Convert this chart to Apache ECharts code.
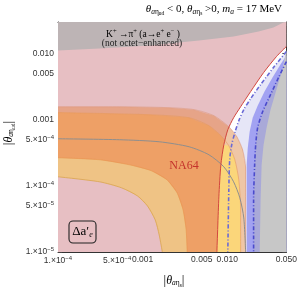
<!DOCTYPE html>
<html><head><meta charset="utf-8">
<script src="https://cdn.jsdelivr.net/npm/echarts@6/dist/echarts.min.js"></script>
<style>html,body{margin:0;padding:0;background:#fff}#c{width:300px;height:292px}</style>
</head><body><div id="c"></div>
<script>
// ---- axis ranges & ticks ----
const xMin = 1e-4, xMax = 0.05, yMin = 1e-5, yMax = 0.03;
const xTickValues = [1e-4, 5e-4, 1e-3, 5e-3, 1e-2, 5e-2];
const xTickLabels = ['1.×10^−4', '5.×10^−4', '0.001', '0.005', '0.010', '0.050'];
const yTickValues = [1e-5, 5e-5, 1e-4, 5e-4, 1e-3, 5e-3, 1e-2];
const yTickLabels = ['1.×10^−5', '5.×10^−5', '1.×10^−4', '5.×10^−4', '0.001', '0.005', '0.010'];

// ---- region boundaries [|theta_a eta_s|, |theta_a eta_ud|] ----
const topGrayEdge = [[1e-4,1.11e-2],[3.11e-4,1.19e-2],[1.2e-3,1.32e-2],[4.64e-3,1.57e-2],[1.19e-2,1.81e-2],[2.35e-2,2.15e-2],[3.52e-2,2.48e-2],[4.61e-2,2.95e-2],[5e-2,3e-2]];
const deltaAeEdge = [[5e-2,1.28e-2],[3.82e-2,9.01e-3],[2.69e-2,5.15e-3],[1.89e-2,2.66e-3],[1.44e-2,1.57e-3],[1.19e-2,1.07e-3],[1.016e-2,7.05e-4],[9.12e-3,4.18e-4],[8.41e-3,2.08e-4],[7.97e-3,6.81e-5],[7.55e-3,1e-5]];
const blueDashEdge = [[5e-2,1.07e-2],[3.52e-2,6.14e-3],[2.48e-2,3.39e-3],[1.89e-2,2.08e-3],[1.57e-2,1.42e-3],[1.37e-2,9.66e-4],[1.23e-2,6.35e-4],[1.13e-2,4.18e-4],[1.07e-2,2.48e-4],[1.044e-2,8.69e-5],[1.016e-2,1e-5]];
const blueBandEdge = [[5e-2,9.33e-3],[4.26e-2,6.81e-3],[3.43e-2,4.33e-3],[2.76e-2,2.66e-3],[2.29e-2,1.63e-3],[2.0e-2,1.07e-3],[1.84e-2,6.58e-4],[1.75e-2,3.77e-4],[1.70e-2,2.08e-4],[1.70e-2,1e-5]];
const blueCenterLine = [[5e-2,7.57e-3],[4.04e-2,4.33e-3],[3.25e-2,2.39e-3],[2.62e-2,1.32e-3],[2.29e-2,7.57e-4],[2.17e-2,4.18e-4],[2.11e-2,2.08e-4],[2.05e-2,6.14e-5],[2.05e-2,1e-5]];
const grayRightEdge = [[5e-2,1.15e-2],[4.50e-2,5.72e-3],[3.82e-2,2.85e-3],[3.25e-2,1.42e-3],[2.92e-2,7.57e-4],[2.69e-2,4.18e-4],[2.55e-2,2.08e-4],[2.48e-2,6.14e-5],[2.42e-2,1e-5]];
const na64Outer = [[1e-4,1.57e-3],[5.34e-4,1.57e-3],[2.06e-3,1.52e-3],[4.06e-3,1.42e-3],[6.96e-3,1.15e-3],[1.044e-2,7.83e-4],[1.30e-2,5.52e-4],[1.52e-2,3.51e-4],[1.65e-2,1.87e-4],[1.65e-2,6.14e-5],[1.65e-2,1e-5]];
const na64Inner = [[1e-4,1.28e-3],[1.2e-3,1.19e-3],[3.54e-3,1.07e-3],[6.08e-3,8.11e-4],[8.41e-3,5.72e-4],[1.044e-2,4.04e-4],[1.23e-2,2.48e-4],[1.37e-2,1.23e-4],[1.44e-2,4.33e-5],[1.44e-2,1e-5]];
const na64Central = [[1e-4,5.15e-4],[5.34e-4,4.98e-4],[1.57e-3,4.64e-4],[3.54e-3,3.90e-4],[6.08e-3,2.95e-4],[9.12e-3,1.94e-4],[1.19e-2,1.15e-4],[1.41e-2,6.58e-5],[1.57e-2,3.27e-5],[1.65e-2,1e-5]];
const bandUpper = [[1e-4,2.66e-4],[3.11e-4,2.48e-4],[7.0e-4,2.08e-4],[1.27e-3,1.69e-4],[1.95e-3,1.23e-4],[2.56e-3,7.83e-5],[3.01e-3,4.33e-5],[3.27e-3,2.15e-5],[3.36e-3,1e-5]];
const bandLower = [[1e-4,1.37e-4],[3.11e-4,1.15e-4],[5.64e-4,9.33e-5],[8.69e-4,7.05e-5],[1.14e-3,4.98e-5],[1.41e-3,3.05e-5],[1.57e-3,1.81e-5],[1.71e-3,1e-5]];

// ---- building ----
const L = v => Math.log10(v);
const corner = [[xMin, yMin]];
const BR = [[xMax, yMin]];
const SERIF = '"Liberation Serif", "DejaVu Serif", serif';
const SANS = '"Liberation Sans", Arial, sans-serif';

function poly(pts, color) {
  return {
    type: 'custom', coordinateSystem: 'cartesian2d', xAxisIndex: 0, yAxisIndex: 0,
    silent: true, clip: true, z: 1, data: [0],
    renderItem: (params, api) => ({
      type: 'polygon',
      shape: { points: pts.map(p => api.coord([L(p[0]), L(p[1])])) },
      style: { fill: color }
    })
  };
}
function line(pts, color, width, type) {
  return {
    type: 'line', xAxisIndex: 0, yAxisIndex: 0, silent: true, z: 3,
    data: pts.map(p => [L(p[0]), L(p[1])]), showSymbol: false, symbol: 'none',
    smooth: 0.25, lineStyle: { color: color, width: width, type: type || 'solid' }, clip: true
  };
}

const series = [
  poly([[xMin, yMax], [xMax, yMax]].concat(deltaAeEdge, corner), '#e7bfc3'),
  poly(blueDashEdge.concat(BR), '#e6e6f7'),
  poly(blueBandEdge.concat(BR), '#a2a2f2'),
  poly(blueCenterLine.concat(BR), '#a9a9d8'),
  poly(grayRightEdge.concat(BR), '#c7c7c7'),
  poly(topGrayEdge.concat([[xMin, yMax]]), '#bdb4b5'),
  poly(na64Outer.concat(corner), '#e6a488'),
  poly(na64Inner.concat(corner), '#eea066'),
  poly(na64Outer.slice(5).concat(deltaAeEdge.slice(6).reverse()), '#efc6a6'),
  poly(na64Inner.slice(5).concat(deltaAeEdge.slice(7).reverse()), '#fbd67a'),
  poly(bandUpper.concat(corner), '#efc385'),
  poly(bandLower.concat(corner), '#e7bfc3'),
  line(bandLower, '#d9a550', 0.8),
  line(bandUpper, '#e9964f', 0.6),
  line(na64Inner, '#e89a5c', 0.6),
  line(na64Outer, '#de9a80', 0.6),
  line(na64Central, '#8e8e8e', 1),
  line(blueCenterLine, '#4b4bcc', 1.6, [4, 2, 1, 2]),
  line(blueDashEdge, '#6a6ad6', 1.6, [4, 2, 1, 2]),
  line(deltaAeEdge, '#d2463e', 1)
];

// ---- ticks ----
function minors(decades, majors, lo, hi) {
  const out = [];
  decades.forEach(d => { for (let k = 2; k <= 9; k++) { const v = k * d; if (v > lo && v < hi * 1.0001 && !majors.some(m => Math.abs(m - v) < 1e-12)) out.push(v); } });
  return out;
}
const xMinor = minors([1e-4, 1e-3, 1e-2], xTickValues, xMin, xMax);
const yMinor = minors([1e-5, 1e-4, 1e-3, 1e-2], yTickValues, yMin, yMax);

function fmt(values, labels) {
  return v => {
    const i = values.findIndex(t => Math.abs(L(t) - v) < 1e-6);
    if (i < 0) return '';
    const s = labels[i];
    const m = s.match(/^(.*)\^(.*)$/);
    return m ? '{b|' + m[1] + '}{e|' + m[2] + '}' : '{b|' + s + '}';
  };
}
const rich = {
  b: { fontSize: 8.5, fontFamily: SANS, color: '#333' },
  e: { fontSize: 6, fontFamily: SANS, color: '#333', padding: [0, 0, 5, 0] }
};
const frame = { show: true, onZero: false, lineStyle: { color: '#333', width: 1 } };

function axisSet(dim, vals, labels, minorVals, lo, hi) {
  const base = { type: 'value', min: L(lo), max: L(hi), splitLine: { show: false }, scale: true };
  const pos = dim === 'x' ? ['bottom', 'top'] : ['left', 'right'];
  const major = vals.map(L), minor = minorVals.map(L);
  return [
    Object.assign({}, base, { position: pos[0], axisLine: frame,
      axisTick: { show: true, inside: true, length: 4, customValues: major, lineStyle: { color: '#444' } },
      axisLabel: { show: true, customValues: major, formatter: fmt(vals, labels), rich: rich, margin: dim === 'x' ? 3 : 4, showMinLabel: true, showMaxLabel: true, hideOverlap: false } }),
    Object.assign({}, base, { position: pos[0], axisLine: { show: false },
      axisTick: { show: true, inside: true, length: 2, customValues: minor, lineStyle: { color: '#555' } },
      axisLabel: { show: false } }),
    Object.assign({}, base, { position: pos[1], axisLine: frame,
      axisTick: { show: true, inside: true, length: 4, customValues: major, lineStyle: { color: '#444' } },
      axisLabel: { show: false } }),
    Object.assign({}, base, { position: pos[1], axisLine: { show: false },
      axisTick: { show: true, inside: true, length: 2, customValues: minor, lineStyle: { color: '#555' } },
      axisLabel: { show: false } })
  ];
}

const titleRich = {
  i: { fontFamily: SERIF, fontStyle: 'italic', fontSize: 11, color: '#222' },
  n: { fontFamily: SERIF, fontSize: 11, color: '#222' },
  s: { fontFamily: SERIF, fontSize: 7.5, color: '#222', padding: [5, 0, 0, 0] },
  si: { fontFamily: SERIF, fontStyle: 'italic', fontSize: 7.5, color: '#222', padding: [5, 0, 0, 0] },
  ss: { fontFamily: SERIF, fontSize: 5.5, color: '#222', padding: [9, 0, 0, 0] },
  sup: { fontFamily: SERIF, fontSize: 6.5, color: '#222', padding: [0, 0, 6, 0] },
  t: { fontFamily: SERIF, fontSize: 9.5, color: '#222' },
  big: { fontFamily: SERIF, fontSize: 13, color: '#222' }
};

const chart = echarts.init(document.getElementById('c'), null, { renderer: 'canvas' });
chart.setOption({
  animation: false,
  backgroundColor: '#fff',
  grid: { left: 58, right: 12, top: 22, bottom: 40, containLabel: false },
  xAxis: axisSet('x', xTickValues, xTickLabels, xMinor, xMin, xMax),
  yAxis: axisSet('y', yTickValues, yTickLabels, yMinor, yMin, yMax),
  series: series,
  graphic: [
    { type: 'text', x: 282, y: 2, silent: true,
      style: { text: '{i|θ}{si|a}{s|η}{ss|ud}{n| < 0, }{i|θ}{si|a}{s|η}{ss|s}{n| >0, }{i|m}{si|a}{n| = 17 MeV}', rich: titleRich, align: 'right', verticalAlign: 'top' } },
    { type: 'text', x: 9, y: 133, rotation: Math.PI / 2, silent: true, z: 10,
      style: { text: '{big||}{i|θ}{si|a}{s|η}{ss|ud}{big||}', rich: Object.assign({}, titleRich, { i: { fontFamily: SERIF, fontStyle: 'italic', fontSize: 12, color: '#222' } }), align: 'center', verticalAlign: 'middle' } },
    { type: 'text', x: 174, y: 281, silent: true,
      style: { text: '{big||}{i|θ}{si|a}{s|η}{ss|s}{big||}', rich: Object.assign({}, titleRich, { i: { fontFamily: SERIF, fontStyle: 'italic', fontSize: 12, color: '#222' } }), align: 'center', verticalAlign: 'middle' } },
    { type: 'text', x: 143, y: 34, silent: true, z: 10,
      style: { text: '{t|K}{sup|+}{t| →π}{sup|+}{t| (a→e}{sup|+}{t| e}{sup|−}{t| )}', rich: titleRich, align: 'center', verticalAlign: 'middle' } },
    { type: 'text', x: 142, y: 43, silent: true, z: 10,
      style: { text: '(not octet−enhanced)', font: '9.5px ' + SERIF, fill: '#222', align: 'center', verticalAlign: 'middle' } },
    { type: 'text', x: 184, y: 166, silent: true, z: 10,
      style: { text: 'NA64', font: '12px ' + SERIF, fill: '#c4322b', align: 'center', verticalAlign: 'middle' } },
    { type: 'rect', silent: true, z: 10, shape: { x: 69, y: 221, width: 27, height: 22, r: 4 },
      style: { fill: 'none', stroke: '#222', lineWidth: 1.1 } },
    { type: 'text', x: 82.5, y: 232, silent: true, z: 10,
      style: { text: '{big|Δa′}{s|e}', rich: Object.assign({}, titleRich, { s: { fontFamily: SERIF, fontStyle: 'italic', fontSize: 8, color: '#222', padding: [6, 0, 0, 0] } }), align: 'center', verticalAlign: 'middle' } }
  ]
});
</script>
</body></html>
